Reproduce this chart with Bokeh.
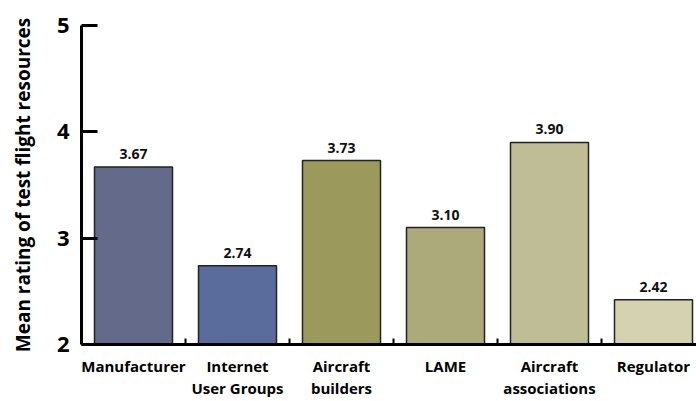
from bokeh.plotting import figure
from bokeh.models import Range1d, FixedTicker, ColumnDataSource
from bokeh.core.properties import value
from bokeh.embed import file_html
from bokeh.resources import INLINE

categories = ["Manufacturer", "Internet\nUser Groups", "Aircraft\nbuilders", "LAME",
              "Aircraft\nassociations", "Regulator"]
ratings = [3.67, 2.74, 3.73, 3.10, 3.90, 2.42]
colors = ["#646A89", "#5A6C9B", "#9B9A5C", "#ACAA7A", "#BFBD95", "#D5D2B1"]
y_ticks = [2, 3, 4, 5]
y_label = "Mean rating of test flight resources"

n = len(categories)
xs = list(range(n))
y0 = y_ticks[0]
src = ColumnDataSource(dict(x=xs, top=ratings, color=colors,
                            lbl=[f"{v:.2f}" for v in ratings]))

FONT = "Open Sans"

p = figure(width=696, height=401, output_backend="svg", toolbar_location=None,
           x_range=Range1d(-0.5, -0.5 + 615 / 104), y_range=Range1d(y0, y_ticks[-1]),
           min_border_left=81, min_border_right=0, min_border_top=25,
           min_border_bottom=57)
p.outline_line_color = None
p.xgrid.visible = False
p.ygrid.visible = False
p.background_fill_color = "white"

p.vbar(x="x", top="top", bottom=y0, width=0.75, fill_color="color",
       line_color="#222222", line_width=1.5, source=src)
p.text(x="x", y="top", text="lbl", source=src, y_offset=-8,
       text_align="center", text_baseline="bottom",
       text_font=value(FONT), text_font_style="bold", text_font_size="14px",
       text_color="#111111")

# y axis
ya = p.yaxis[0]
ya.ticker = FixedTicker(ticks=y_ticks, minor_ticks=[])
ya.axis_line_width = 3
ya.axis_line_color = "black"
ya.major_tick_in = 16
ya.major_tick_out = 0
ya.major_tick_line_width = 3
ya.minor_tick_line_color = None
ya.major_label_text_font = FONT
ya.major_label_text_font_style = "bold"
ya.major_label_text_font_size = "22px"
ya.major_label_text_color = "black"
ya.major_label_standoff = 12
ya.axis_label = y_label
ya.axis_label_text_font = FONT
ya.axis_label_text_font_style = "bold"
ya.axis_label_text_font_size = "19px"
ya.axis_label_text_color = "black"
ya.axis_label_standoff = 18

# x axis
xa = p.xaxis[0]
xa.ticker = FixedTicker(ticks=xs, minor_ticks=[i + 0.5 for i in range(n - 1)])
xa.major_label_overrides = {i: c for i, c in zip(xs, categories)}
xa.major_label_text_font = FONT
xa.major_label_text_font_style = "bold"
xa.major_label_text_font_size = "15px"
xa.major_label_text_color = "black"
xa.major_label_text_line_height = 1.1
xa.major_label_standoff = 5
xa.axis_line_width = 3
xa.axis_line_color = "black"
xa.major_tick_line_color = None
xa.minor_tick_in = 6
xa.minor_tick_out = 0
xa.minor_tick_line_width = 2
xa.minor_tick_line_color = "black"

open("out.html", "w").write(file_html(p, INLINE))
